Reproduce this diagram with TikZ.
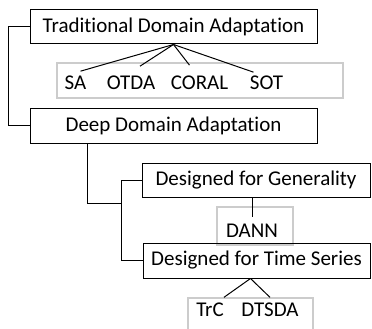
\documentclass[tikz,border=0pt]{standalone}
\usepackage{fontspec}
\setmainfont{Carlito}[Ligatures=NoCommon]
\usetikzlibrary{positioning}
\tikzstyle{block} = [rectangle, draw, line width=1pt, inner sep=0pt, minimum height=34pt]
\tikzstyle{group} = [rectangle, draw=gray!40, line width=1.3pt, inner sep=0pt]
\tikzstyle{method} = [inner sep=0pt, anchor=base]
\tikzstyle{line} = [draw, line width=1pt]

\begin{document}
\begin{tikzpicture}[x=1pt, y=-1pt, font=\fontsize{21}{24}\selectfont]
  \useasboundingbox (0,0) rectangle (372,329);

  \node [block, minimum width=287pt] (trad) at (173.5,27) {Traditional Domain Adaptation};
  \node [group, minimum width=286pt, minimum height=35pt] (trad_group) at (200,80.5) {};
  \node [method] (sa) at (75.5,89) {SA};
  \node [method] (otda) at (131,89) {OTDA};
  \node [method] (coral) at (199.5,89) {CORAL};
  \node [method] (sot) at (266.5,89) {SOT};

  \node [block, minimum width=287pt, minimum height=35pt] (deep) at (173.5,125.5) {Deep Domain Adaptation};

  \node [block, minimum width=228pt] (general) at (256,180) {Designed for Generality};
  \node [group, minimum width=76pt, minimum height=38pt] (dann_group) at (255,226) {};
  \node [method] (dann) at (252,237.5) {DANN};

  \node [block, minimum width=227pt, minimum height=35pt] (series) at (256.5,260.5) {Designed for Time Series};
  \node [group, minimum width=125pt, minimum height=42pt] (ts_group) at (250.5,319) {};
  \node [method] (trc) at (210,316) {TrC};
  \node [method] (dtsda) at (270,316) {DTSDA};

  \coordinate (branch) at (122,203);

  % traditional methods
  \path [line] (trad.south) -- ([xshift=5pt, yshift=4pt]sa.north);
  \path [line] (trad.south) -- ([xshift=9pt, yshift=9pt]otda.north);
  \path [line] (trad.south) -- ([xshift=-10pt, yshift=10pt]coral.north);
  \path [line] (trad.south) -- ([xshift=-13pt, yshift=3pt]sot.north);

  % tree brackets
  \path [line] (trad.west) -- ++(-21,0) |- (deep.west);
  \path [line] ([xshift=-86.5pt]deep.south) |- (branch);
  \path [line] (general.west) -- ++(-20,0) |- (series.west);

  \path [line] (dann.north |- general.south) -- ([yshift=7pt]dann.north);
  \path [line] ([xshift=-6pt]series.south) -- (trc.north east |- ts_group.north);
  \path [line] ([xshift=-6pt]series.south) -- (dtsda.north |- ts_group.north);
\end{tikzpicture}
\end{document}
